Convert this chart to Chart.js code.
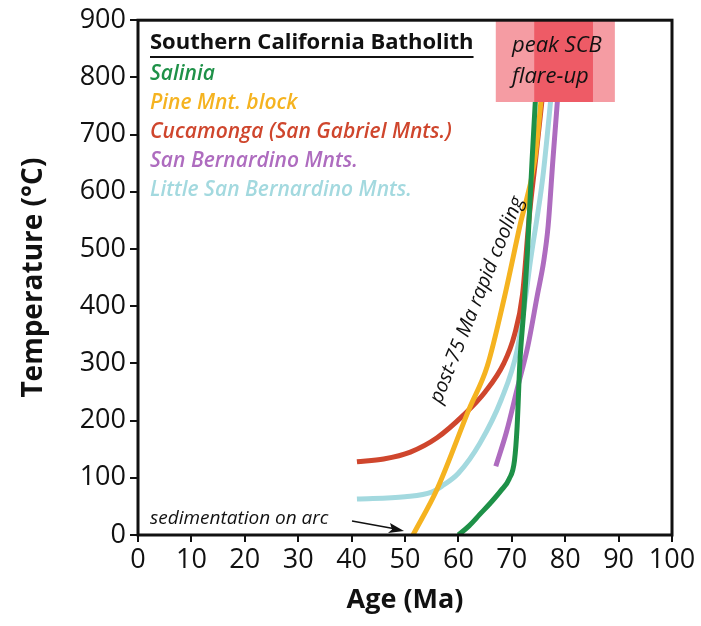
<!DOCTYPE html>
<html>
<head>
<meta charset="utf-8">
<script src="https://cdn.jsdelivr.net/npm/chart.js@4"></script>
<style>
  html, body { margin: 0; padding: 0; background: #fff; }
  #wrap { width: 701px; height: 626px; }
</style>
</head>
<body>
<div id="wrap"><canvas id="coolingChart" width="701" height="626"></canvas></div>
<script>
// Cooling paths, age (Ma) vs temperature (°C)
const seriesNames = ["Salinia", "Pine Mnt. block", "Cucamonga (San Gabriel Mnts.)", "San Bernardino Mnts.", "Little San Bernardino Mnts."];
const seriesColors = ["#1e9148", "#f5b320", "#cf462d", "#ae6cbf", "#a3d9df"];

const saliniaAge = [60, 62, 64, 66, 68, 69.5, 70.5, 71, 71.5, 72.3, 72.9, 73.8, 74.6];
const saliniaTemp = [0, 16, 36, 56, 78, 98, 130, 190, 300, 400, 490, 656, 790];

const pineAge = [51.5, 56, 62, 65.4, 68.6, 71.5, 74.3, 75.8];
const pineTemp = [0, 80, 220, 295, 415, 540, 656, 790];

const cucamongaAge = [41, 46, 51, 56, 61, 65, 68.5, 70.5, 72, 73.3, 74.5, 76];
const cucamongaTemp = [128, 133, 145, 170, 210, 250, 300, 350, 420, 560, 660, 790];

const sanBernAge = [67, 69, 71, 73, 74.8, 76, 76.8, 77.7, 78.8];
const sanBernTemp = [120, 180, 255, 330, 420, 480, 540, 656, 790];

const littleSBAge = [41, 50, 55, 57, 60, 64, 68, 71, 72.5, 73.5, 75.8, 77.6];
const littleSBTemp = [63, 67, 75, 86, 108, 160, 236, 323, 410, 480, 625, 790];

// Axis ticks
const ageTicks = [0, 10, 20, 30, 40, 50, 60, 70, 80, 90, 100];
const tempTicks = [0, 100, 200, 300, 400, 500, 600, 700, 800, 900];

// Peak SCB flare-up band (Ma / °C)
const flareOuter = [67, 89.3];
const flareCore = [74.2, 85.2];
const flareTemp = [757, 900];

const seriesAges = [saliniaAge, pineAge, cucamongaAge, sanBernAge, littleSBAge];
const seriesTemps = [saliniaTemp, pineTemp, cucamongaTemp, sanBernTemp, littleSBTemp];

const datasets = seriesNames.map((name, i) => ({
  label: name,
  data: seriesAges[i].map((a, j) => ({ x: a, y: seriesTemps[i][j] })),
  borderColor: seriesColors[i],
  borderWidth: 5,
  pointRadius: 0,
  fill: false,
  cubicInterpolationMode: "monotone",
  borderCapStyle: "butt"
}));

// Draw the flare-up band, labels and frame on top of the lines
const overlay = {
  id: "overlay",
  afterDatasetsDraw(chart) {
    const { ctx, chartArea: area, scales: { x, y } } = chart;
    ctx.save();

    const yTop = y.getPixelForValue(flareTemp[1]);
    const yBot = y.getPixelForValue(flareTemp[0]);
    ctx.fillStyle = "#f59ca3";
    ctx.fillRect(x.getPixelForValue(flareOuter[0]), yTop, x.getPixelForValue(flareOuter[1]) - x.getPixelForValue(flareOuter[0]), yBot - yTop);
    ctx.fillStyle = "#ee5b66";
    ctx.fillRect(x.getPixelForValue(flareCore[0]), yTop, x.getPixelForValue(flareCore[1]) - x.getPixelForValue(flareCore[0]), yBot - yTop);

    ctx.fillStyle = "#111";
    ctx.textBaseline = "middle";
    ctx.textAlign = "left";
    ctx.font = "italic 22px 'Open Sans'";
    ctx.fillText("peak SCB", 512, 46);
    ctx.fillText("flare-up", 512, 77);

    // legend block
    ctx.font = "bold 22px 'Open Sans'";
    ctx.fillText("Southern California Batholith", 150, 43);
    const tw = ctx.measureText("Southern California Batholith").width;
    ctx.fillRect(150, 56, tw, 2);
    ctx.font = "italic 600 21px 'Open Sans'";
    seriesNames.forEach((name, i) => {
      ctx.fillStyle = seriesColors[i];
      ctx.fillText(name, 150, 74 + i * 29);
    });

    // rotated annotation
    ctx.fillStyle = "#111";
    ctx.save();
    ctx.translate(477, 300);
    ctx.rotate(-68 * Math.PI / 180);
    ctx.textAlign = "center";
    ctx.font = "italic 20px 'Open Sans'";
    ctx.fillText("post-75 Ma rapid cooling", 0, 0);
    ctx.restore();

    // sedimentation note with arrow
    ctx.font = "italic 19px 'Open Sans'";
    ctx.fillText("sedimentation on arc", 150, 519);
    ctx.strokeStyle = "#111";
    ctx.lineWidth = 1.5;
    ctx.beginPath();
    ctx.moveTo(352, 521);
    ctx.lineTo(396, 529);
    ctx.stroke();
    ctx.beginPath();
    ctx.moveTo(404, 531);
    ctx.lineTo(390, 523);
    ctx.lineTo(392, 529.5);
    ctx.lineTo(388, 533);
    ctx.closePath();
    ctx.fill();

    // plot frame
    ctx.strokeStyle = "#111";
    ctx.lineWidth = 3;
    ctx.strokeRect(area.left, area.top, area.right - area.left, area.bottom - area.top);
    ctx.restore();
  }
};

const ctx = document.getElementById("coolingChart").getContext("2d");
new Chart(ctx, {
  type: "line",
  data: { datasets },
  options: {
    responsive: false,
    animation: false,
    layout: { padding: { top: 20, right: 29, left: 0, bottom: 0 } },
    plugins: {
      legend: { display: false },
      tooltip: { enabled: false }
    },
    scales: {
      x: {
        type: "linear",
        min: 0,
        max: 100,
        afterFit: (s) => { s.height = 91; },
        afterBuildTicks: (s) => { s.ticks = ageTicks.map(v => ({ value: v })); },
        grid: { drawOnChartArea: false, drawTicks: true, tickLength: 7, color: "#111", lineWidth: 2 },
        border: { display: false },
        ticks: { autoSkip: false, maxRotation: 0, padding: 2, color: "#111", font: { family: "'Open Sans'", size: 27 } },
        title: { display: true, text: "Age (Ma)", color: "#111", font: { family: "'Open Sans'", size: 27, weight: "bold" }, padding: { top: 0, bottom: 9 } }
      },
      y: {
        min: 0,
        max: 900,
        afterFit: (s) => { s.width = 138; },
        afterBuildTicks: (s) => { s.ticks = tempTicks.map(v => ({ value: v })); },
        grid: { drawOnChartArea: false, drawTicks: true, tickLength: 8, color: "#111", lineWidth: 2 },
        border: { display: false },
        ticks: { padding: 4, color: "#111", font: { family: "'Open Sans'", size: 27 } },
        title: { display: true, text: "Temperature (°C)", color: "#111", font: { family: "'Open Sans'", size: 28, weight: "bold" }, padding: { top: 17, bottom: 0 } }
      }
    }
  },
  plugins: [overlay]
});
</script>
</body>
</html>
